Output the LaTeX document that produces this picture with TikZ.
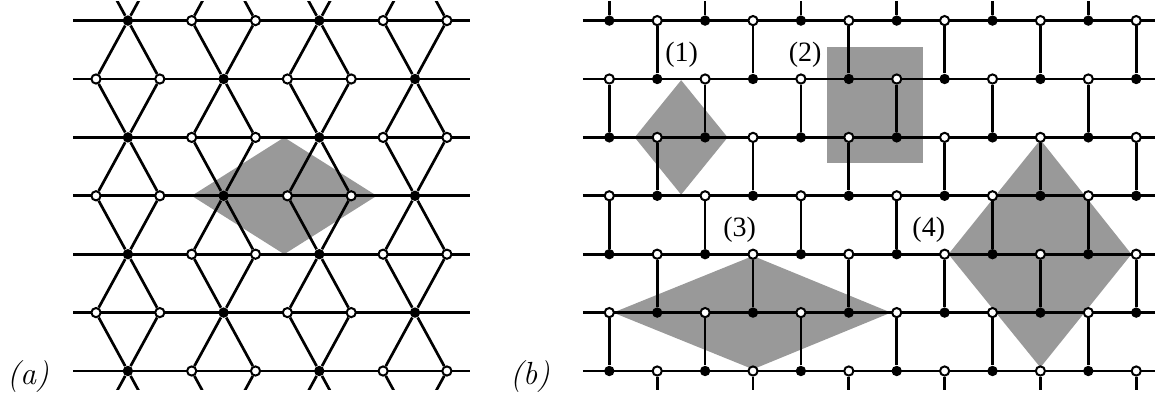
\documentclass[tikz,border=0pt]{standalone}
\usepackage{fontspec}
\newfontfamily\labelfont{Liberation Serif}
\definecolor{cellgray}{gray}{0.6}
\tikzset{
  bond/.style={line width=1.35pt},
  fullsite/.style={circle, fill=black, inner sep=0pt, minimum size=5.2pt},
  emptysite/.style={circle, draw=black, fill=white, line width=1pt, inner sep=0pt, minimum size=4.6pt},
  cell/.style={fill=cellgray},
  cellnum/.style={font=\labelfont\fontsize{14}{16}\selectfont},
  panel/.style={font=\fontsize{16}{19}\selectfont\itshape}
}

\begin{document}
\begin{tikzpicture}[x=0.5pt, y=0.5pt]
    \useasboundingbox (0,0) rectangle (1155,397);

    % --- (a) Dice lattice ---
    \begin{scope}[shift={(48pt,13pt)}, x=15.95pt, y=29.2pt]
        \clip (-0.72,-0.31) rectangle (11.72,6.32);
        \fill[cell] (3,3) -- (5.9,4) -- (8.8,3) -- (5.9,2) -- cycle;
        \foreach \j in {0,...,6}
            \draw[bond] (-0.72,\j) -- (11.72,\j);
        % sites: six-fold (filled) and three-fold (open)
        \foreach \j in {-2,...,8}
            \foreach \k in {-1,...,12} {
                \pgfmathtruncatemacro{\parity}{mod(\k+\j+20,2)}
                \ifnum\parity=1
                    \pgfmathtruncatemacro{\hub}{mod(\k-1-3*\j+60,6)}
                    \ifnum\hub=0
                        \node[fullsite] (a-\k-\j) at (\k,\j) {};
                    \else
                        \node[emptysite] (a-\k-\j) at (\k,\j) {};
                    \fi
                \fi
            }
        % diagonal bonds through the six-fold sites
        \foreach \j in {-1,...,7}
            \foreach \k in {0,...,11} {
                \pgfmathtruncatemacro{\parity}{mod(\k+\j+20,2)}
                \pgfmathtruncatemacro{\hub}{mod(\k-1-3*\j+60,6)}
                \ifnum\parity=1 \ifnum\hub=0
                    \pgfmathtruncatemacro{\kl}{\k-1}
                    \pgfmathtruncatemacro{\kr}{\k+1}
                    \pgfmathtruncatemacro{\ju}{\j+1}
                    \pgfmathtruncatemacro{\jd}{\j-1}
                    \draw[bond] (a-\kl-\ju) -- (a-\k-\j) -- (a-\kr-\jd);
                    \draw[bond] (a-\kr-\ju) -- (a-\k-\j) -- (a-\kl-\jd);
                \fi \fi
            }
    \end{scope}

    % --- (b) Brick-wall lattice ---
    \begin{scope}[shift={(304.65pt,13pt)}, x=23.95pt, y=29.2pt]
        \clip (-0.55,-0.31) rectangle (11.4,6.32);
        % shaded cells
        \fill[cell] (1.5,4.98) -- (2.47,4) -- (1.5,3.02) -- (0.53,4) -- cycle;
        \fill[cell] (4.54,3.56) rectangle (6.55,5.55);
        \fill[cell] (0.08,1) -- (3,1.97) -- (5.88,1) -- (3,0.03) -- cycle;
        \fill[cell] (9,3.96) -- (10.9,2) -- (9,0.06) -- (7.08,2) -- cycle;
        \foreach \j in {0,...,6}
            \draw[bond] (-0.55,\j) -- (11.4,\j);
        % sites
        \foreach \j in {-1,...,7}
            \foreach \m in {0,...,11} {
                \pgfmathtruncatemacro{\parity}{mod(\m+\j+20,2)}
                \ifnum\parity=0
                    \node[fullsite] (b-\m-\j) at (\m,\j) {};
                \else
                    \node[emptysite] (b-\m-\j) at (\m,\j) {};
                \fi
            }
        % vertical bonds, filled site up to open site
        \foreach \j in {-1,...,6}
            \foreach \m in {0,...,11} {
                \pgfmathtruncatemacro{\parity}{mod(\m+\j+20,2)}
                \ifnum\parity=0
                    \pgfmathtruncatemacro{\ju}{\j+1}
                    \draw[bond] (b-\m-\j) -- (b-\m-\ju);
                \fi
            }
        % cell labels
        \node[cellnum] (n1) at (1.51,5.41) {(1)};
        \node[cellnum] (n2) at (4.09,5.41) {(2)};
        \node[cellnum] (n3) at (2.72,2.41) {(3)};
        \node[cellnum] (n4) at (6.67,2.41) {(4)};
    \end{scope}

    % --- Panel tags ---
    \node[panel] (tagA) at (28,20) {(a)};
    \node[panel] (tagB) at (530,20) {(b)};
\end{tikzpicture}
\end{document}
